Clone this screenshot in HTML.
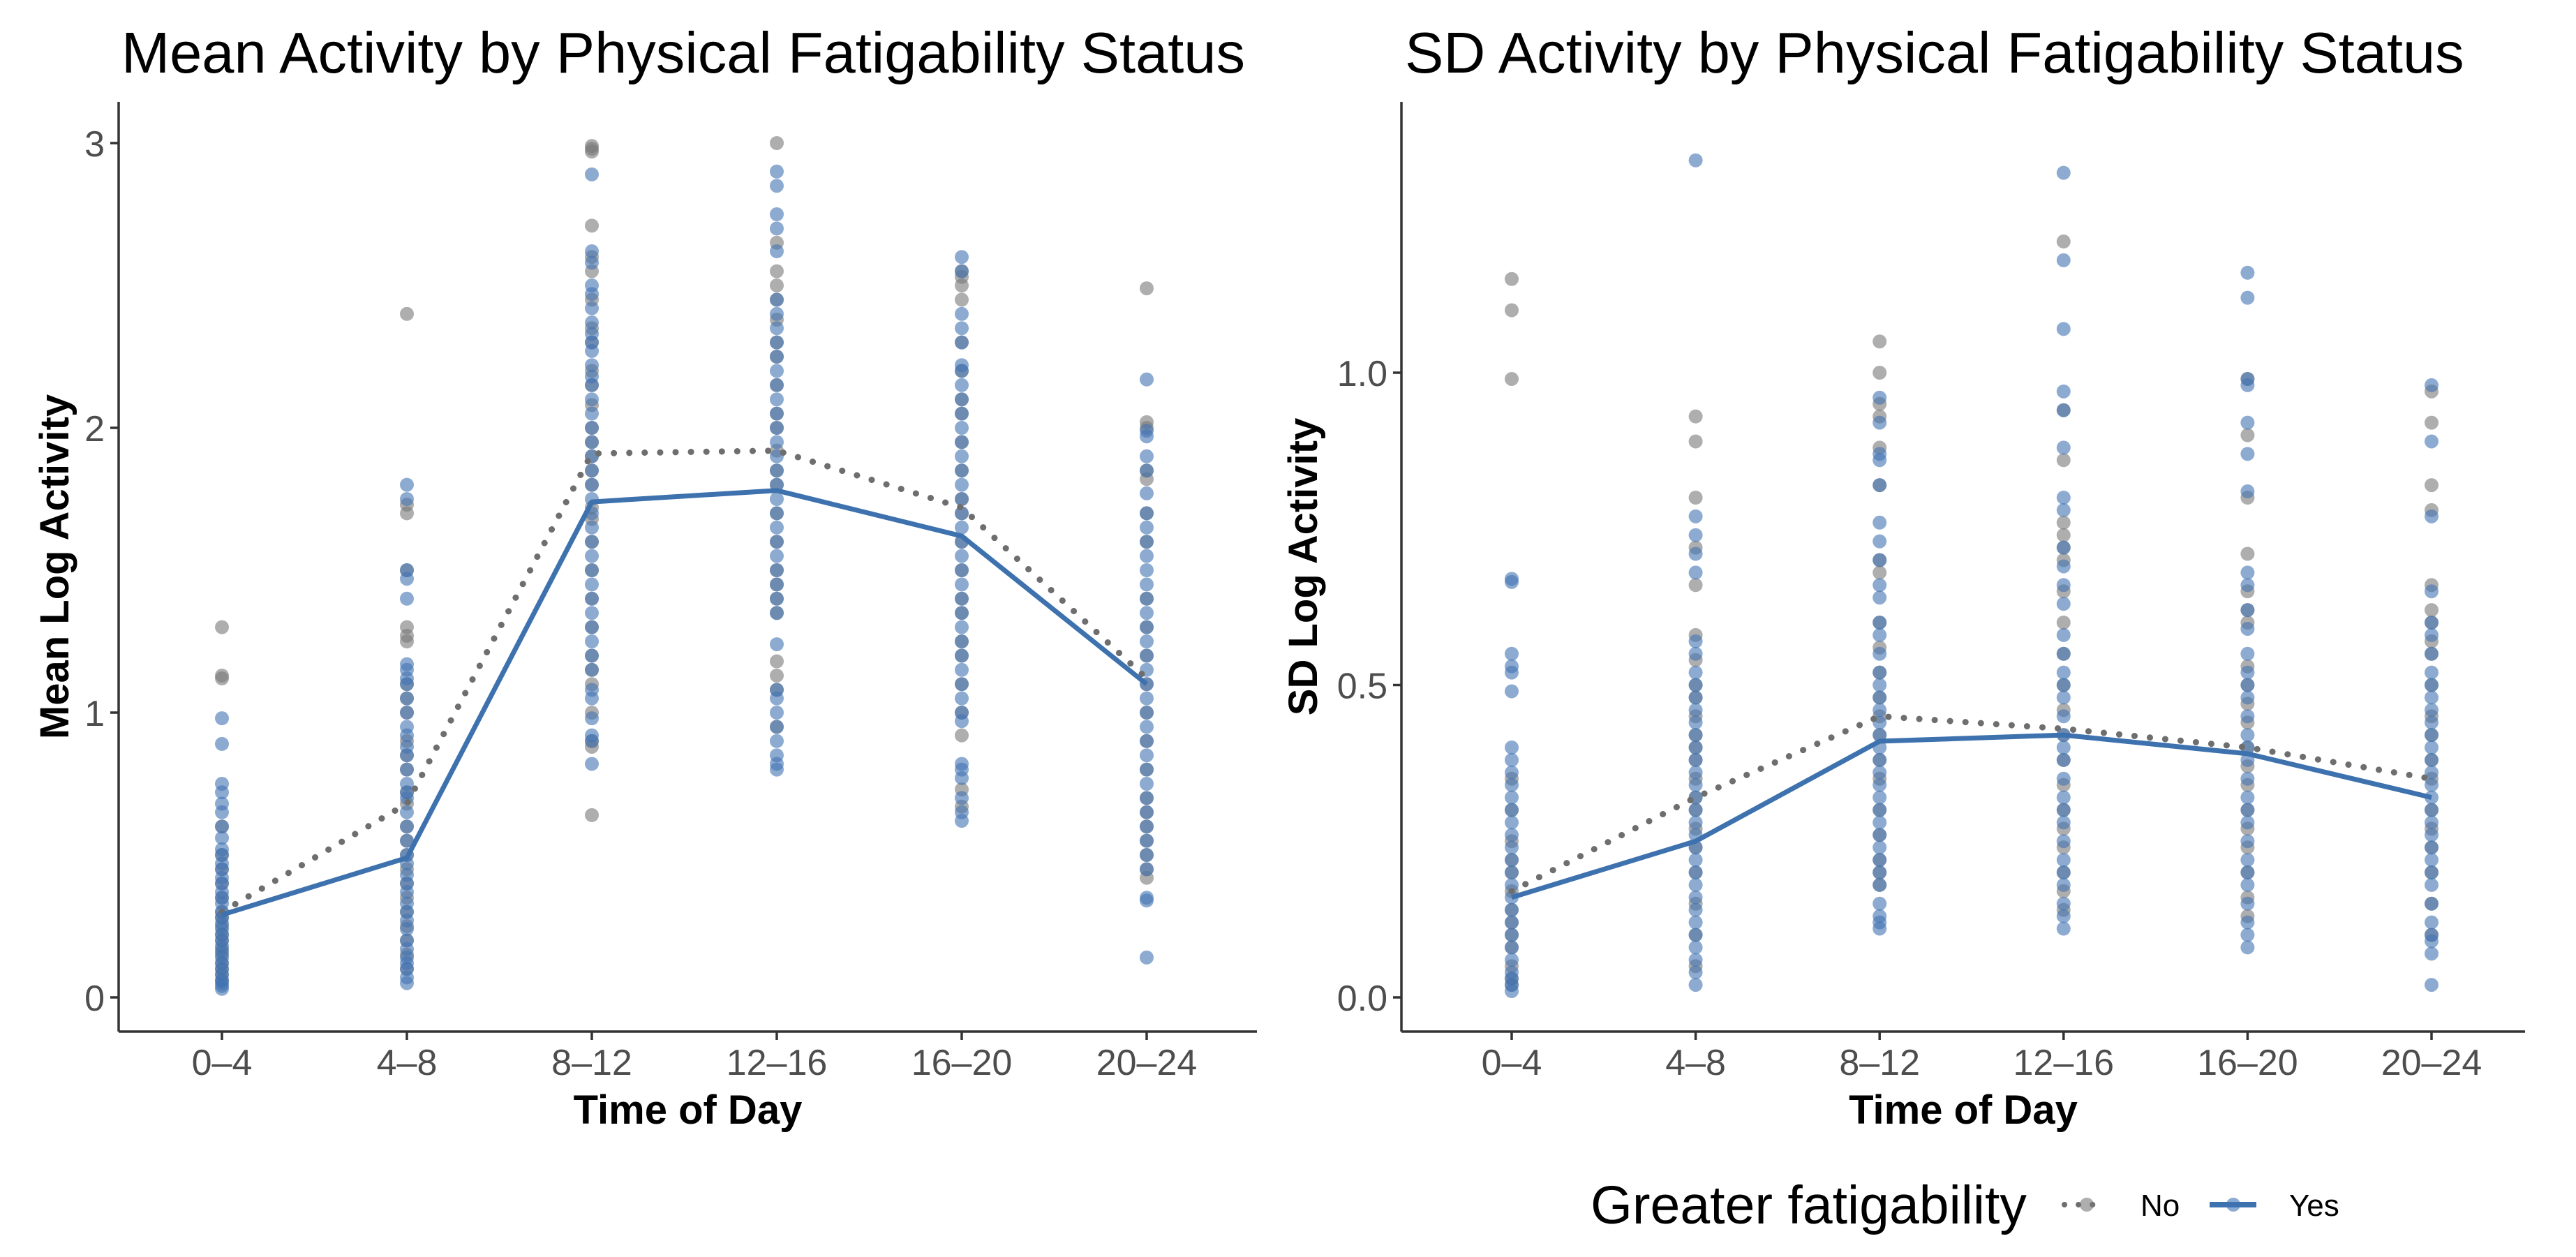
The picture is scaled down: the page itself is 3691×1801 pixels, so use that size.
<!DOCTYPE html>
<html><head><meta charset="utf-8"><style>
html,body{margin:0;padding:0;background:#fff;}
svg{display:block;font-family:"Liberation Sans",sans-serif;}
</style></head><body>
<svg id="chart" width="3691" height="1801" viewBox="0 0 3691 1801" xmlns="http://www.w3.org/2000/svg">
<rect width="3691" height="1801" fill="#fff"/>
<text x="174" y="104" font-size="83" fill="#000">Mean Activity by Physical Fatigability Status</text>
<text x="2013" y="104" font-size="83" fill="#000">SD Activity by Physical Fatigability Status</text>
<g id="left"></g>
<g id="right"></g>
<g>
<text x="2279" y="1753" font-size="77" fill="#000">Greater fatigability</text>
<line x1="2958" y1="1726" x2="3002" y2="1726" stroke="#6e6e6e" stroke-width="8" stroke-dasharray="0.1 20" stroke-linecap="round"/>
<circle cx="2990" cy="1726" r="10" fill="rgba(120,120,120,0.6)"/>
<text x="3067" y="1742" font-size="44" fill="#000">No</text>
<line x1="3166" y1="1726" x2="3233" y2="1726" stroke="#3e72ae" stroke-width="8"/>
<circle cx="3200" cy="1726" r="10" fill="rgba(65,115,178,0.6)"/>
<text x="3280" y="1742" font-size="44" fill="#000">Yes</text>
</g>
</svg>
<script>
const categories=["0–4","4–8","8–12","12–16","16–20","20–24"];
const meanYesLine=[0.29,0.49,1.74,1.78,1.62,1.10];
const meanNoLine=[0.30,0.68,1.91,1.92,1.72,1.12];
const sdYesLine=[0.16,0.25,0.41,0.42,0.39,0.32];
const sdNoLine=[0.17,0.32,0.45,0.43,0.40,0.35];
const meanTicks=[0,1,2,3];
const meanTickLabels=["0","1","2","3"];
const sdTicks=[0,0.5,1.0];
const sdTickLabels=["0.0","0.5","1.0"];
const meanYesPts=[
[0.98,0.89,0.75,0.72,0.68,0.65,0.6,0.56,0.52,0.5,0.47,0.45,0.42,0.4,0.37,0.35,0.33,0.3,0.28,0.26,0.24,0.22,0.2,0.18,0.16,0.14,0.12,0.1,0.08,0.06,0.05,0.04,0.03],
[1.8,1.75,1.5,1.47,1.4,1.17,1.15,1.12,1.1,1.05,1.0,0.95,0.92,0.88,0.85,0.8,0.75,0.72,0.7,0.65,0.6,0.55,0.5,0.47,0.43,0.4,0.37,0.33,0.3,0.27,0.24,0.2,0.17,0.14,0.12,0.1,0.07,0.05],
[2.89,2.62,2.58,2.5,2.47,2.42,2.37,2.33,2.3,2.27,2.22,2.18,2.15,2.1,2.05,2.0,1.95,1.9,1.85,1.8,1.75,1.7,1.65,1.6,1.55,1.5,1.45,1.4,1.35,1.3,1.25,1.2,1.15,1.08,1.05,0.98,0.92,0.9,0.82],
[2.9,2.85,2.75,2.7,2.62,2.45,2.4,2.35,2.3,2.25,2.2,2.15,2.1,2.05,2.0,1.95,1.9,1.85,1.8,1.75,1.7,1.65,1.6,1.55,1.5,1.45,1.4,1.35,1.24,1.08,1.05,1.0,0.95,0.9,0.85,0.82,0.8],
[2.6,2.55,2.4,2.35,2.3,2.22,2.2,2.15,2.1,2.05,2.0,1.95,1.9,1.85,1.8,1.75,1.7,1.65,1.6,1.55,1.5,1.45,1.4,1.35,1.3,1.25,1.2,1.15,1.1,1.05,1.0,0.97,0.82,0.8,0.77,0.7,0.65,0.62],
[2.17,1.99,1.97,1.9,1.85,1.77,1.7,1.65,1.6,1.55,1.5,1.45,1.4,1.35,1.3,1.25,1.2,1.15,1.1,1.05,1.0,0.95,0.9,0.85,0.8,0.75,0.7,0.65,0.6,0.55,0.5,0.45,0.35,0.34,0.14]];
const meanNoPts=[
[1.3,1.13,1.12,0.6,0.5,0.45,0.4,0.35,0.3,0.28,0.25,0.22,0.2,0.17,0.15,0.12,0.1,0.08,0.06],
[2.4,1.73,1.7,1.5,1.3,1.27,1.25,1.1,1.05,1.0,0.9,0.85,0.8,0.72,0.68,0.6,0.55,0.5,0.45,0.4,0.35,0.3,0.25,0.2,0.15,0.1],
[2.99,2.98,2.97,2.71,2.6,2.55,2.45,2.35,2.3,2.2,2.15,2.08,2.0,1.95,1.9,1.85,1.8,1.72,1.68,1.6,1.5,1.4,1.3,1.2,1.15,1.1,1.0,0.9,0.88,0.64],
[3.0,2.65,2.55,2.5,2.45,2.38,2.3,2.25,2.15,2.05,2.0,1.92,1.85,1.8,1.7,1.6,1.5,1.45,1.4,1.35,1.18,1.13,1.08,0.95],
[2.55,2.53,2.5,2.45,2.3,2.2,2.1,2.05,1.95,1.85,1.75,1.7,1.6,1.5,1.4,1.35,1.25,1.2,1.1,1.0,0.92,0.73,0.67],
[2.49,2.02,2.0,1.85,1.82,1.7,1.6,1.4,1.3,1.2,1.1,1.0,0.9,0.8,0.7,0.65,0.6,0.55,0.5,0.45,0.42]];
const sdYesPts=[
[0.67,0.665,0.55,0.53,0.52,0.49,0.4,0.38,0.36,0.34,0.32,0.3,0.28,0.26,0.24,0.22,0.2,0.18,0.16,0.14,0.12,0.1,0.08,0.06,0.04,0.03,0.02,0.01],
[1.34,0.77,0.74,0.71,0.68,0.57,0.55,0.52,0.5,0.48,0.46,0.44,0.42,0.4,0.38,0.36,0.34,0.32,0.3,0.28,0.26,0.24,0.22,0.2,0.18,0.16,0.14,0.12,0.1,0.08,0.06,0.04,0.02],
[0.96,0.92,0.87,0.86,0.82,0.76,0.73,0.7,0.66,0.64,0.6,0.58,0.55,0.52,0.5,0.48,0.46,0.44,0.42,0.4,0.38,0.36,0.34,0.32,0.3,0.28,0.26,0.24,0.22,0.2,0.18,0.15,0.13,0.12,0.11],
[1.32,1.18,1.07,0.97,0.94,0.88,0.8,0.78,0.72,0.69,0.66,0.63,0.58,0.55,0.52,0.5,0.48,0.45,0.42,0.4,0.38,0.35,0.32,0.3,0.28,0.25,0.22,0.2,0.18,0.15,0.13,0.11],
[1.16,1.12,0.99,0.98,0.92,0.87,0.81,0.68,0.66,0.62,0.59,0.55,0.52,0.5,0.48,0.45,0.42,0.4,0.38,0.35,0.32,0.3,0.28,0.25,0.22,0.2,0.18,0.15,0.12,0.1,0.08],
[0.98,0.89,0.77,0.65,0.6,0.58,0.55,0.52,0.5,0.48,0.46,0.44,0.42,0.4,0.38,0.36,0.34,0.32,0.3,0.28,0.26,0.24,0.22,0.2,0.18,0.15,0.12,0.1,0.09,0.07,0.02]];
const sdNoPts=[
[1.15,1.1,0.99,0.35,0.3,0.25,0.22,0.2,0.17,0.14,0.12,0.1,0.08,0.05,0.03,0.02],
[0.93,0.89,0.8,0.72,0.66,0.58,0.54,0.5,0.48,0.45,0.42,0.4,0.38,0.35,0.32,0.3,0.27,0.24,0.2,0.15,0.1,0.05],
[1.05,1.0,0.95,0.93,0.88,0.82,0.7,0.68,0.6,0.56,0.52,0.48,0.45,0.42,0.38,0.35,0.3,0.26,0.22,0.2,0.18],
[1.21,0.94,0.86,0.76,0.74,0.72,0.7,0.65,0.6,0.55,0.5,0.46,0.42,0.38,0.34,0.3,0.27,0.24,0.2,0.17,0.14],
[0.99,0.9,0.8,0.71,0.65,0.62,0.6,0.53,0.5,0.47,0.44,0.4,0.37,0.34,0.3,0.27,0.24,0.2,0.16,0.13],
[0.97,0.92,0.82,0.78,0.66,0.62,0.6,0.57,0.55,0.5,0.45,0.42,0.38,0.35,0.3,0.27,0.24,0.2,0.15,0.1]];

const NS="http://www.w3.org/2000/svg";
function mk(tag,attrs,parent,txt){const e=document.createElementNS(NS,tag);for(const k in attrs)e.setAttribute(k,attrs[k]);if(txt!=null)e.textContent=txt;parent.appendChild(e);return e;}

function panel(g,cfg){
  const xs=i=>cfg.x0+cfg.step*i;
  const ys=v=>cfg.yZero-v*cfg.yUnit;
  const ya=mk('line',{x1:cfg.left,y1:cfg.top,x2:cfg.left,y2:cfg.bottom,stroke:'#333','stroke-width':3.5},g);
  
  const xa=mk('line',{x1:cfg.left,y1:cfg.bottom,x2:cfg.right,y2:cfg.bottom,stroke:'#333','stroke-width':3.5},g);
  
  cfg.ticks.forEach((t,i)=>{
    const y=ys(t);
    const tk=mk('line',{x1:cfg.left-12,y1:y,x2:cfg.left,y2:y,stroke:'#333','stroke-width':3.5},g);
    
    const tl=mk('text',{x:cfg.left-20,y:y+19,'font-size':52,fill:'#4d4d4d','text-anchor':'end'},g,cfg.tickLabels[i]);
    
  });
  categories.forEach((c,i)=>{
    const x=xs(i);
    const tk=mk('line',{x1:x,y1:cfg.bottom,x2:x,y2:cfg.bottom+12,stroke:'#333','stroke-width':3.5},g);
    
    const tl=mk('text',{x:x,y:cfg.bottom+62,'font-size':52,fill:'#4d4d4d','text-anchor':'middle'},g,c);
    
  });
  const xt=mk('text',{x:(cfg.left+cfg.right)/2,y:cfg.bottom+132,'font-size':58,'font-weight':'bold',fill:'#000','text-anchor':'middle'},g,'Time of Day');
  
  const yt=mk('text',{x:0,y:0,'font-size':58,'font-weight':'bold',fill:'#000','text-anchor':'middle',transform:`translate(${cfg.ytx},${(cfg.top+cfg.bottom)/2}) rotate(-90)`},g,cfg.ytitle);
  
  cfg.noPts.forEach((arr,i)=>arr.forEach(v=>{
    const p=mk('circle',{cx:xs(i),cy:ys(v),r:10,fill:'rgba(120,120,120,0.6)'},g);
    
  }));
  cfg.yesPts.forEach((arr,i)=>arr.forEach(v=>{
    const p=mk('circle',{cx:xs(i),cy:ys(v),r:10,fill:'rgba(65,115,178,0.6)'},g);
    
  }));
  const nl=mk('polyline',{points:cfg.noLine.map((v,i)=>xs(i)+','+ys(v)).join(' '),fill:'none',stroke:'#6e6e6e','stroke-width':9,'stroke-dasharray':'0.1 22','stroke-linecap':'round'},g);
  
  const yl=mk('polyline',{points:cfg.yesLine.map((v,i)=>xs(i)+','+ys(v)).join(' '),fill:'none',stroke:'#3e72ae','stroke-width':7,'stroke-linejoin':'round'},g);
  
}
panel(document.getElementById('left'),{left:170,right:1801,top:146,bottom:1478,x0:318,step:265,yZero:1429,yUnit:408,
  ticks:meanTicks,tickLabels:meanTickLabels,ytitle:'Mean Log Activity',ytx:98,
  yesPts:meanYesPts,noPts:meanNoPts,yesLine:meanYesLine,noLine:meanNoLine});
panel(document.getElementById('right'),{left:2008,right:3618,top:146,bottom:1478,x0:2166,step:263.6,yZero:1429,yUnit:895,
  ticks:sdTicks,tickLabels:sdTickLabels,ytitle:'SD Log Activity',ytx:1887,
  yesPts:sdYesPts,noPts:sdNoPts,yesLine:sdYesLine,noLine:sdNoLine});
</script>
</body></html>
